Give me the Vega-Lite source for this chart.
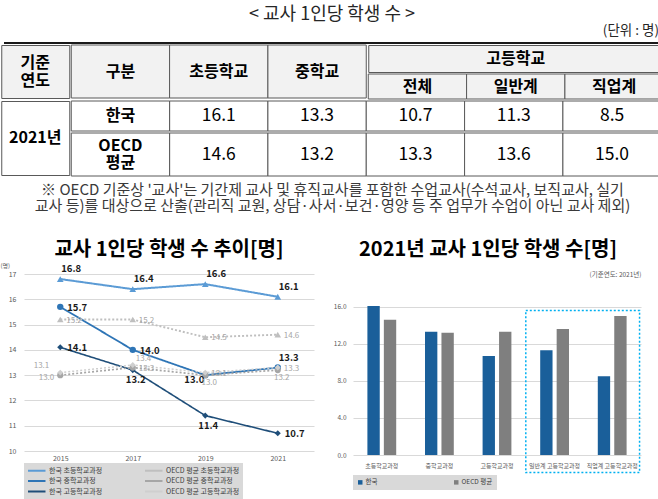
{
  "$schema": "https://vega.github.io/schema/vega-lite/v6.json",
  "padding": 0,
  "background": "white",
  "config": {
    "font": "Noto Sans CJK KR",
    "view": {"stroke": null},
    "axis": {"labelFont": "Noto Sans CJK KR", "titleFont": "Noto Sans CJK KR"},
    "legend": {"labelFont": "Noto Sans CJK KR"},
    "title": {"font": "Noto Sans CJK KR", "fontSize": 20, "fontWeight": "bold", "color": "#000000", "anchor": "middle"}
  },
  "datasets": {
    "table": [
      {"region": "한국", "elem": 16.1, "mid": 13.3, "hs": 10.7, "gen": 11.3, "voc": 8.5},
      {"region": "OECD 평균", "elem": 14.6, "mid": 13.2, "hs": 13.3, "gen": 13.6, "voc": 15.0}
    ],
    "trend": [
      {"series": "한국 초등학교과정", "year": "2015", "value": 16.8},
      {"series": "한국 초등학교과정", "year": "2017", "value": 16.4},
      {"series": "한국 초등학교과정", "year": "2019", "value": 16.6},
      {"series": "한국 초등학교과정", "year": "2021", "value": 16.1},
      {"series": "한국 중학교과정", "year": "2015", "value": 15.7},
      {"series": "한국 중학교과정", "year": "2017", "value": 14.0},
      {"series": "한국 중학교과정", "year": "2019", "value": 13.0},
      {"series": "한국 중학교과정", "year": "2021", "value": 13.3},
      {"series": "한국 고등학교과정", "year": "2015", "value": 14.1},
      {"series": "한국 고등학교과정", "year": "2017", "value": 13.2},
      {"series": "한국 고등학교과정", "year": "2019", "value": 11.4},
      {"series": "한국 고등학교과정", "year": "2021", "value": 10.7},
      {"series": "OECD 평균 초등학교과정", "year": "2015", "value": 15.2},
      {"series": "OECD 평균 초등학교과정", "year": "2017", "value": 15.2},
      {"series": "OECD 평균 초등학교과정", "year": "2019", "value": 14.5},
      {"series": "OECD 평균 초등학교과정", "year": "2021", "value": 14.6},
      {"series": "OECD 평균 중학교과정", "year": "2015", "value": 13.0},
      {"series": "OECD 평균 중학교과정", "year": "2017", "value": 13.3},
      {"series": "OECD 평균 중학교과정", "year": "2019", "value": 13.0},
      {"series": "OECD 평균 중학교과정", "year": "2021", "value": 13.2},
      {"series": "OECD 평균 고등학교과정", "year": "2015", "value": 13.1},
      {"series": "OECD 평균 고등학교과정", "year": "2017", "value": 13.4},
      {"series": "OECD 평균 고등학교과정", "year": "2019", "value": 13.1},
      {"series": "OECD 평균 고등학교과정", "year": "2021", "value": 13.3}
    ],
    "bars": [
      {"category": "초등학교과정", "group": "한국", "value": 16.1},
      {"category": "초등학교과정", "group": "OECD 평균", "value": 14.6},
      {"category": "중학교과정", "group": "한국", "value": 13.3},
      {"category": "중학교과정", "group": "OECD 평균", "value": 13.2},
      {"category": "고등학교과정", "group": "한국", "value": 10.7},
      {"category": "고등학교과정", "group": "OECD 평균", "value": 13.3},
      {"category": "일반계 고등학교과정", "group": "한국", "value": 11.3},
      {"category": "일반계 고등학교과정", "group": "OECD 평균", "value": 13.6},
      {"category": "직업계 고등학교과정", "group": "한국", "value": 8.5},
      {"category": "직업계 고등학교과정", "group": "OECD 평균", "value": 15.0}
    ]
  },
  "columns": 1,
  "center": true,
  "spacing": 0,
  "resolve": {"scale": {"color": "independent"}, "legend": {"color": "independent"}},
  "concat": [
    {
      "width": 656,
      "height": 43,
      "data": {"values": [{}]},
      "layer": [
        {"mark": {"type": "text", "text": "< 교사 1인당 학생 수 >", "fontSize": 18, "color": "#262626", "baseline": "middle", "dy": -6.5}},
        {"mark": {"type": "text", "text": "(단위 : 명)", "fontSize": 13.5, "color": "#262626", "baseline": "middle", "align": "right", "x": "width", "dx": -1, "dy": 9}},
        {"mark": {"type": "rule", "strokeWidth": 2, "color": "#1a1a1a"}, "encoding": {"y": {"value": "height"}}}
      ]
    },
    {
      "spacing": 0,
      "vconcat": [
        {
          "spacing": 0,
          "hconcat": [
            {
              "width": 68,
              "height": 53,
              "data": {"values": [{}]},
              "view": {"fill": "#f2f2f2", "stroke": "#595959"},
              "layer": [
                {"mark": {"type": "text", "text": "기준", "fontSize": 16, "fontWeight": "bold", "baseline": "middle", "dy": -9, "color": "#000000"}},
                {"mark": {"type": "text", "text": "연도", "fontSize": 16, "fontWeight": "bold", "baseline": "middle", "dy": 9, "color": "#000000"}}
              ]
            },
            {
              "width": 295,
              "height": 53,
              "data": {"values": [{"c": "구분"}, {"c": "초등학교"}, {"c": "중학교"}]},
              "encoding": {"x": {"field": "c", "type": "nominal", "sort": null, "scale": {"paddingInner": 0, "paddingOuter": 0}, "axis": null}},
              "layer": [
                {"mark": {"type": "rect", "fill": "#f2f2f2", "stroke": "#595959", "strokeWidth": 1}},
                {"mark": {"type": "text", "fontSize": 16, "fontWeight": "bold", "baseline": "middle", "color": "#000000"}, "encoding": {"text": {"field": "c"}}}
              ]
            },
            {
              "spacing": 0,
              "vconcat": [
                {
                  "width": 295,
                  "height": 27,
                  "data": {"values": [{}]},
                  "view": {"fill": "#f2f2f2", "stroke": "#595959"},
                  "mark": {"type": "text", "text": "고등학교", "fontSize": 16, "fontWeight": "bold", "baseline": "middle", "color": "#000000"}
                },
                {
                  "width": 295,
                  "height": 25,
                  "data": {"values": [{"c": "전체"}, {"c": "일반계"}, {"c": "직업계"}]},
                  "encoding": {"x": {"field": "c", "type": "nominal", "sort": null, "scale": {"paddingInner": 0, "paddingOuter": 0}, "axis": null}},
                  "layer": [
                    {"mark": {"type": "rect", "fill": "#f2f2f2", "stroke": "#595959", "strokeWidth": 1}},
                    {"mark": {"type": "text", "fontSize": 16, "fontWeight": "bold", "baseline": "middle", "color": "#000000"}, "encoding": {"text": {"field": "c"}}}
                  ]
                }
              ]
            }
          ]
        },
        {
          "spacing": 0,
          "hconcat": [
            {
              "width": 68,
              "height": 74,
              "data": {"values": [{}]},
              "view": {"fill": "#ffffff", "stroke": "#595959"},
              "mark": {"type": "text", "text": "2021년", "fontSize": 16, "fontWeight": "bold", "baseline": "middle", "color": "#000000"}
            },
            {
              "spacing": 0,
              "vconcat": [
                {
                  "width": 590,
                  "height": 30,
                  "data": {"name": "table"},
                  "transform": [
                    {"filter": "datum.region === '한국'"},
                    {"fold": ["elem", "mid", "hs", "gen", "voc"], "as": ["col", "value"]}
                  ],
                  "encoding": {"x": {"field": "col", "type": "nominal", "scale": {"domain": ["region", "elem", "mid", "hs", "gen", "voc"], "paddingInner": 0, "paddingOuter": 0}, "axis": null}},
                  "layer": [
                    {"mark": {"type": "rect", "fill": "#ffffff", "stroke": "#595959", "strokeWidth": 1}},
                    {"transform": [{"filter": "datum.col === 'elem'"}], "mark": {"type": "rect", "fill": "#ffffff", "stroke": "#595959", "strokeWidth": 1}, "encoding": {"x": {"datum": "region"}}},
                    {"mark": {"type": "text", "fontSize": 17.5, "baseline": "middle", "color": "#000000"}, "encoding": {"text": {"field": "value", "type": "quantitative", "format": ".1f"}}},
                    {"transform": [{"filter": "datum.col === 'elem'"}], "mark": {"type": "text", "fontSize": 16, "fontWeight": "bold", "baseline": "middle", "color": "#000000"}, "encoding": {"x": {"datum": "region"}, "text": {"field": "region"}}}
                  ]
                },
                {
                  "width": 590,
                  "height": 43,
                  "data": {"name": "table"},
                  "transform": [
                    {"filter": "datum.region === 'OECD 평균'"},
                    {"fold": ["elem", "mid", "hs", "gen", "voc"], "as": ["col", "value"]}
                  ],
                  "encoding": {"x": {"field": "col", "type": "nominal", "scale": {"domain": ["region", "elem", "mid", "hs", "gen", "voc"], "paddingInner": 0, "paddingOuter": 0}, "axis": null}},
                  "layer": [
                    {"mark": {"type": "rect", "fill": "#ffffff", "stroke": "#595959", "strokeWidth": 1}},
                    {"transform": [{"filter": "datum.col === 'elem'"}], "mark": {"type": "rect", "fill": "#ffffff", "stroke": "#595959", "strokeWidth": 1}, "encoding": {"x": {"datum": "region"}}},
                    {"mark": {"type": "text", "fontSize": 17.5, "baseline": "middle", "color": "#000000"}, "encoding": {"text": {"field": "value", "type": "quantitative", "format": ".1f"}}},
                    {"transform": [{"filter": "datum.col === 'elem'"}], "mark": {"type": "text", "text": "OECD", "fontSize": 16, "fontWeight": "bold", "baseline": "middle", "dy": -8.5, "color": "#000000"}, "encoding": {"x": {"datum": "region"}}},
                    {"transform": [{"filter": "datum.col === 'elem'"}], "mark": {"type": "text", "text": "평균", "fontSize": 16, "fontWeight": "bold", "baseline": "middle", "dy": 8.5, "color": "#000000"}, "encoding": {"x": {"datum": "region"}}}
                  ]
                }
              ]
            }
          ]
        }
      ]
    },
    {
      "width": 658,
      "height": 62,
      "data": {"values": [{}]},
      "layer": [
        {"mark": {"type": "text", "text": "※ OECD 기준상 '교사'는 기간제 교사 및 휴직교사를 포함한 수업교사(수석교사, 보직교사, 실기", "fontSize": 15, "color": "#3a3a3a", "baseline": "middle", "dy": -18}},
        {"mark": {"type": "text", "text": "교사 등)를 대상으로 산출(관리직 교원, 상담·사서·보건·영양 등 주 업무가 수업이 아닌 교사 제외)", "fontSize": 15, "color": "#3a3a3a", "baseline": "middle", "dy": -2}}
      ]
    },
    {
      "spacing": 19,
      "resolve": {"scale": {"color": "independent"}, "legend": {"color": "independent"}},
      "hconcat": [
        {
          "width": 290,
          "height": 177,
          "title": {"text": "교사 1인당 학생 수 추이[명]", "offset": 2},
          "data": {"name": "trend"},
          "encoding": {
            "x": {"field": "year", "type": "ordinal", "scale": {"type": "point", "padding": 0.5}, "axis": {"labelAngle": 0, "ticks": false, "domain": false, "grid": false, "title": null, "labelFontSize": 7, "labelColor": "#595959", "labelPadding": 3}},
            "y": {"field": "value", "type": "quantitative", "scale": {"domain": [10, 17], "nice": false, "zero": false}, "axis": {"values": [10, 11, 12, 13, 14, 15, 16, 17], "grid": true, "gridColor": "#d9d9d9", "domain": false, "ticks": false, "labelFontSize": 7, "labelColor": "#595959", "labelPadding": 8, "title": "(명)", "titleAngle": 0, "titleFontSize": 6, "titleFontWeight": "normal", "titleColor": "#595959", "titleX": -24, "titleY": -9, "titleAlign": "left", "titleBaseline": "middle"}}
          },
          "layer": [
            {
              "mark": {"type": "line"},
              "encoding": {
                "color": {"field": "series", "type": "nominal", "scale": {"domain": ["한국 초등학교과정", "OECD 평균 초등학교과정", "한국 중학교과정", "OECD 평균 중학교과정", "한국 고등학교과정", "OECD 평균 고등학교과정"], "range": ["#5b9bd5", "#bfbfbf", "#2e75b6", "#a6a6a6", "#1f4e79", "#cfcfcf"]}, "legend": {"orient": "bottom", "columns": 2, "title": null, "fillColor": "#d9d9d9", "padding": 3, "offset": 2, "symbolType": "M-1,0H4", "symbolSize": 49, "symbolStrokeWidth": 2, "labelFontSize": 7, "labelColor": "#404040", "columnPadding": 38, "rowPadding": 1.5, "labelOffset": 13}},
                "strokeDash": {"field": "series", "type": "nominal", "scale": {"domain": ["한국 초등학교과정", "OECD 평균 초등학교과정", "한국 중학교과정", "OECD 평균 중학교과정", "한국 고등학교과정", "OECD 평균 고등학교과정"], "range": [[1, 0], [2, 2], [1, 0], [2, 2], [1, 0], [2, 2]]}},
                "strokeWidth": {"field": "series", "type": "nominal", "scale": {"domain": ["한국 초등학교과정", "OECD 평균 초등학교과정", "한국 중학교과정", "OECD 평균 중학교과정", "한국 고등학교과정", "OECD 평균 고등학교과정"], "range": [2, 1.5, 2, 1.5, 2, 1.5]}, "legend": null}
              }
            },
            {
              "mark": {"type": "point", "filled": true, "opacity": 1},
              "encoding": {
                "color": {"field": "series", "type": "nominal"},
                "shape": {"field": "series", "type": "nominal", "scale": {"domain": ["한국 초등학교과정", "OECD 평균 초등학교과정", "한국 중학교과정", "OECD 평균 중학교과정", "한국 고등학교과정", "OECD 평균 고등학교과정"], "range": ["triangle-up", "triangle-up", "circle", "circle", "diamond", "diamond"]}, "legend": null},
                "size": {"field": "series", "type": "nominal", "scale": {"domain": ["한국 초등학교과정", "OECD 평균 초등학교과정", "한국 중학교과정", "OECD 평균 중학교과정", "한국 고등학교과정", "OECD 평균 고등학교과정"], "range": [45, 35, 50, 80, 35, 25]}, "legend": null}
              }
            },
            {
              "transform": [{"filter": "indexof(['한국 초등학교과정|2015','한국 초등학교과정|2017','한국 초등학교과정|2019','한국 초등학교과정|2021','한국 중학교과정|2021'], datum.series + '|' + datum.year) >= 0"}],
              "mark": {"type": "text", "align": "left", "baseline": "middle", "dx": 1, "dy": -10, "fontSize": 9.5, "fontWeight": "bold", "color": "#1a1a1a"},
              "encoding": {"text": {"field": "value", "type": "quantitative", "format": ".1f"}}
            },
            {
              "transform": [{"filter": "indexof(['한국 중학교과정|2015','한국 중학교과정|2017','한국 고등학교과정|2015','한국 고등학교과정|2021'], datum.series + '|' + datum.year) >= 0"}],
              "mark": {"type": "text", "align": "left", "baseline": "middle", "dx": 7, "dy": 1, "fontSize": 9.5, "fontWeight": "bold", "color": "#1a1a1a"},
              "encoding": {"text": {"field": "value", "type": "quantitative", "format": ".1f"}}
            },
            {
              "transform": [{"filter": "indexof(['한국 고등학교과정|2017','한국 고등학교과정|2019'], datum.series + '|' + datum.year) >= 0"}],
              "mark": {"type": "text", "align": "center", "baseline": "middle", "dx": 3, "dy": 10, "fontSize": 9.5, "fontWeight": "bold", "color": "#1a1a1a"},
              "encoding": {"text": {"field": "value", "type": "quantitative", "format": ".1f"}}
            },
            {
              "transform": [{"filter": "indexof(['한국 중학교과정|2019'], datum.series + '|' + datum.year) >= 0"}],
              "mark": {"type": "text", "align": "right", "baseline": "middle", "dx": -1, "dy": 5, "fontSize": 9.5, "fontWeight": "bold", "color": "#1a1a1a"},
              "encoding": {"text": {"field": "value", "type": "quantitative", "format": ".1f"}}
            },
            {
              "transform": [{"filter": "indexof(['OECD 평균 초등학교과정|2015','OECD 평균 초등학교과정|2017','OECD 평균 초등학교과정|2019','OECD 평균 초등학교과정|2021','OECD 평균 중학교과정|2017','OECD 평균 고등학교과정|2019','OECD 평균 고등학교과정|2021'], datum.series + '|' + datum.year) >= 0"}],
              "mark": {"type": "text", "align": "left", "baseline": "middle", "dx": 6, "dy": 1, "fontSize": 8, "color": "#a6a6a6"},
              "encoding": {"text": {"field": "value", "type": "quantitative", "format": ".1f"}}
            },
            {
              "transform": [{"filter": "indexof(['OECD 평균 고등학교과정|2017'], datum.series + '|' + datum.year) >= 0"}],
              "mark": {"type": "text", "align": "left", "baseline": "middle", "dx": 3, "dy": -6, "fontSize": 8, "color": "#a6a6a6"},
              "encoding": {"text": {"field": "value", "type": "quantitative", "format": ".1f"}}
            },
            {
              "transform": [{"filter": "indexof(['OECD 평균 중학교과정|2019','OECD 평균 중학교과정|2021'], datum.series + '|' + datum.year) >= 0"}],
              "mark": {"type": "text", "align": "center", "baseline": "middle", "dx": 4, "dy": 8, "fontSize": 8, "color": "#a6a6a6"},
              "encoding": {"text": {"field": "value", "type": "quantitative", "format": ".1f"}}
            },
            {
              "transform": [{"filter": "indexof(['OECD 평균 고등학교과정|2015'], datum.series + '|' + datum.year) >= 0"}],
              "mark": {"type": "text", "align": "right", "baseline": "middle", "dx": -11, "dy": -7, "fontSize": 8, "color": "#a6a6a6"},
              "encoding": {"text": {"field": "value", "type": "quantitative", "format": ".1f"}}
            },
            {
              "transform": [{"filter": "indexof(['OECD 평균 중학교과정|2015'], datum.series + '|' + datum.year) >= 0"}],
              "mark": {"type": "text", "align": "right", "baseline": "middle", "dx": -6, "dy": 3, "fontSize": 8, "color": "#a6a6a6"},
              "encoding": {"text": {"field": "value", "type": "quantitative", "format": ".1f"}}
            }
          ]
        },
        {
          "width": 288,
          "height": 181,
          "title": {"text": "2021년 교사 1인당 학생 수[명]", "offset": 12, "dx": -9},
          "layer": [
            {
              "data": {"name": "bars"},
              "mark": {"type": "bar"},
              "encoding": {
                "x": {"field": "category", "type": "nominal", "sort": null, "scale": {"domain": ["초등학교과정", "중학교과정", "고등학교과정", "일반계 고등학교과정", "직업계 고등학교과정"], "paddingInner": 0.5, "paddingOuter": 0.25}, "axis": {"labelAngle": 0, "ticks": false, "domain": false, "grid": false, "title": null, "labelFontSize": 6, "labelColor": "#595959", "labelPadding": 7, "labelOverlap": false}},
                "xOffset": {"field": "group", "type": "nominal", "sort": null, "scale": {"domain": ["한국", "OECD 평균"], "paddingInner": 0.25}},
                "y": {"field": "value", "type": "quantitative", "scale": {"domain": [0, 19.545], "nice": false}, "axis": {"values": [0, 2, 4, 6, 8, 10, 12, 14, 16, 18], "format": ".1f", "grid": true, "gridColor": "#d9d9d9", "domain": false, "ticks": false, "labelFontSize": 6.5, "labelColor": "#595959", "labelPadding": 7, "title": null}},
                "color": {"field": "group", "type": "nominal", "sort": null, "scale": {"domain": ["한국", "OECD 평균"], "range": ["#1a5f9a", "#7f7f7f"]}, "legend": {"orient": "bottom", "direction": "horizontal", "title": null, "fillColor": "#d9d9d9", "padding": 4, "offset": 7, "symbolType": "square", "symbolSize": 20, "labelFontSize": 6.5, "labelColor": "#404040", "columnPadding": 75, "labelOffset": 2}}
              }
            },
            {
              "data": {"values": [{}]},
              "mark": {"type": "rect", "fill": "transparent", "stroke": "#00b0f0", "strokeWidth": 1.5, "strokeDash": [2, 2]},
              "encoding": {
                "x": {"datum": "일반계 고등학교과정", "bandPosition": -0.5, "axis": {"orient": "top", "labels": false, "ticks": false, "domain": false, "grid": false, "title": "(기준연도: 2021년)", "titleAnchor": "end", "titleAlign": "right", "titleFontSize": 6.5, "titleFontWeight": "normal", "titleColor": "#595959", "titlePadding": -3.5}},
                "x2": {"datum": "직업계 고등학교과정", "bandPosition": 1.45},
                "y": {"datum": 15.6, "type": "quantitative", "scale": {"domain": [0, 19.545], "nice": false}},
                "y2": {"datum": -1.9}
              }
            }
          ],
          "resolve": {"axis": {"x": "independent"}}
        }
      ]
    }
  ]
}
